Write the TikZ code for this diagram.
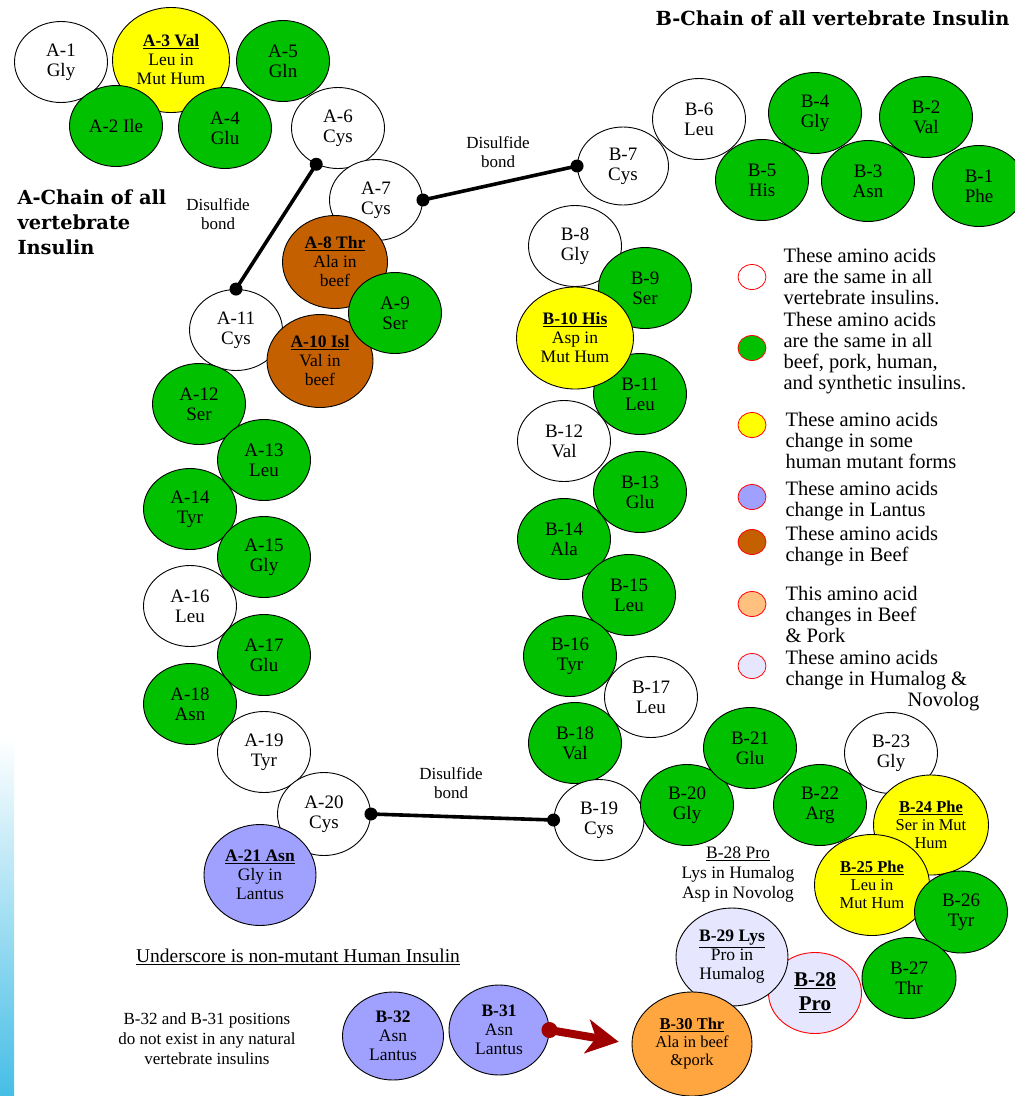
\documentclass[tikz,border=0pt]{standalone}
\usepackage{fontspec}
\setmainfont{Liberation Serif}
\newfontfamily\titlefont{DejaVu Serif}
\usetikzlibrary{shapes.geometric,arrows.meta}
\definecolor{resgreen}{RGB}{0,192,0}
\definecolor{resyellow}{RGB}{255,255,0}
\definecolor{resbrown}{RGB}{196,96,0}
\definecolor{reslantus}{RGB}{160,160,255}
\definecolor{resorange}{RGB}{255,166,64}
\definecolor{respeach}{RGB}{255,192,128}
\definecolor{respale}{RGB}{230,230,255}
\definecolor{arrowred}{RGB}{160,0,0}
\definecolor{stripblue}{RGB}{70,190,230}
\newcommand{\hd}[1]{\underline{\textbf{#1}}}

\begin{document}
\begin{tikzpicture}[x=1pt, y=-1pt, >=stealth,
    res/.style={ellipse, draw=black, line width=0.9pt, inner sep=0pt, minimum width=93pt, minimum height=81pt, align=center, font=\fontsize{19}{20}\selectfont},
    big/.style={minimum width=116pt, minimum height=102pt, font=\fontsize{17.5}{19}\selectfont},
    same/.style={res, fill=white},
    kept/.style={res, fill=resgreen},
    mut/.style={res, big, fill=resyellow},
    beef/.style={res, big, fill=resbrown, minimum width=105pt, minimum height=93pt},
    lantus/.style={res, big, fill=reslantus},
    bond/.style={line width=3.6pt},
    bondlabel/.style={align=center, font=\fontsize{17}{19}\selectfont},
    titletext/.style={font=\titlefont\bfseries\fontsize{19.4}{25}\selectfont},
    key/.style={ellipse, draw=red, line width=0.8pt, inner sep=0pt, minimum width=28pt, minimum height=25pt},
    keytext/.style={anchor=west, align=left, font=\fontsize{20.5}{21}\selectfont},
    note/.style={align=center, font=\fontsize{17.5}{20}\selectfont}]
  \useasboundingbox (0,0) rectangle (1015,1096);
  % 1. 左侧渐变条
  \shade[top color=white, bottom color=stripblue] (0,738) rectangle (14,1096);

  % 2. A 链
  \node[same] (a1) at (61,62) {A-1\\Gly};
  \node[kept] (a5) at (283,61) {A-5\\Gln};
  \node[mut, minimum width=117pt, minimum height=105pt] (a3) at (171,60) {\hd{A-3 Val}\\Leu in\\Mut Hum};
  \node[kept] (a2) at (116,126) {A-2 Ile};
  \node[kept] (a4) at (225,128) {A-4\\Glu};
  \node[same] (a6) at (338,128) {A-6\\Cys};
  \node[same] (a7) at (376,200) {A-7\\Cys};
  \node[same] (a11) at (236,330) {A-11\\Cys};
  \node[beef] (a8) at (335,262) {\hd{A-8 Thr}\\Ala in\\beef};
  \node[beef, minimum width=106pt] (a10) at (320,361) {\hd{A-10 Isl}\\Val in\\beef};
  \node[kept] (a9) at (395,313) {A-9\\Ser};
  \node[kept] (a12) at (199,404) {A-12\\Ser};
  \node[kept] (a13) at (264,460) {A-13\\Leu};
  \node[kept] (a14) at (190,509) {A-14\\Tyr};
  \node[kept] (a15) at (264,557) {A-15\\Gly};
  \node[same] (a16) at (190,606) {A-16\\Leu};
  \node[kept] (a17) at (264,655) {A-17\\Glu};
  \node[kept] (a18) at (190,704) {A-18\\Asn};
  \node[same] (a19) at (264,752) {A-19\\Tyr};
  \node[same, minimum height=83pt] (a20) at (324,814) {A-20\\Cys};
  \node[lantus, minimum width=112pt, minimum height=101pt] (a21) at (260,875) {\hd{A-21 Asn}\\Gly in\\Lantus};

  % 3. B 链
  \node[kept] (b1) at (979,186) {B-1\\Phe};
  \node[kept] (b2) at (926,117) {B-2\\Val};
  \node[kept] (b3) at (868,181) {B-3\\Asn};
  \node[kept] (b4) at (815,113) {B-4\\Gly};
  \node[kept] (b5) at (762,180) {B-5\\His};
  \node[same] (b6) at (699,119) {B-6\\Leu};
  \node[same, minimum width=91pt, minimum height=78pt] (b7) at (623,166) {B-7\\Cys};
  \node[same] (b8) at (575,246) {B-8\\Gly};
  \node[kept] (b9) at (645,288) {B-9\\Ser};
  \node[kept] (b11) at (640,394) {B-11\\Leu};
  \node[same] (b12) at (564,441) {B-12\\Val};
  \node[kept] (b13) at (640,492) {B-13\\Glu};
  \node[kept] (b14) at (564,539) {B-14\\Ala};
  \node[kept] (b15) at (629,595) {B-15\\Leu};
  \node[kept] (b16) at (570,656) {B-16\\Tyr};
  \node[same] (b17) at (651,697) {B-17\\Leu};
  \node[kept] (b18) at (575,743) {B-18\\Val};
  \node[same, minimum width=90pt] (b19) at (599,820) {B-19\\Cys};
  \node[kept] (b20) at (687,805) {B-20\\Gly};
  \node[kept] (b21) at (750,748) {B-21\\Glu};
  \node[kept] (b22) at (820,805) {B-22\\Arg};
  \node[same] (b23) at (891,753) {B-23\\Gly};
  \node[mut, minimum width=117pt] (b10) at (575,338) {\hd{B-10 His}\\Asp in\\Mut Hum};
  \node[mut, minimum width=115pt, minimum height=100pt, font=\fontsize{16.5}{18}\selectfont] (b24) at (931,825) {\hd{B-24 Phe}\\Ser in Mut\\Hum};
  \node[mut, minimum width=115pt, minimum height=101pt, font=\fontsize{16.5}{18}\selectfont] (b25) at (872,885) {\hd{B-25 Phe}\\Leu in\\Mut Hum};
  \node[kept, minimum height=82pt] (b26) at (961,912) {B-26\\Tyr};
  \node[kept, minimum width=94pt] (b27) at (909,978) {B-27\\Thr};
  \node[res, fill=respale, draw=red, font=\bfseries\fontsize{21}{24}\selectfont] (b28) at (815,993) {\underline{B-28}\\\underline{Pro}};
  \node[res, big, fill=respale, minimum width=112pt, minimum height=98pt] (b29) at (732,957) {\hd{B-29 Lys}\\Pro in\\Humalog};
  \node[res, big, fill=resorange, minimum width=120pt, minimum height=104pt, font=\fontsize{16.5}{18}\selectfont] (b30) at (692,1044) {\hd{B-30 Thr}\\Ala in beef\\\&pork};
  \node[lantus, minimum width=100pt, minimum height=90pt] (b31) at (499,1030) {\textbf{B-31}\\Asn\\Lantus};
  \node[lantus, minimum width=101pt, minimum height=88pt] (b32) at (393,1036) {\textbf{B-32}\\Asn\\Lantus};

  % 4. 二硫键
  \draw[bond] (a6.239) -- (a11.north);
  \draw[bond] (a7.east) -- (b7.west);
  \draw[bond] (a20.east) -- (b19.west);
  \foreach \p in {a6.239, a11.north, a7.east, b7.west, a20.east, b19.west}
    \fill (\p) circle (6.5);
  \node[bondlabel] (bl1) at (218,214) {Disulfide\\bond};
  \node[bondlabel] (bl2) at (498,152) {Disulfide\\bond};
  \node[bondlabel] (bl3) at (451,783) {Disulfide\\bond};

  % 5. B-31 到 B-30 的箭头
  \fill[arrowred] (b31.east) circle (8);
  \draw[arrowred, line width=8pt, shorten >=13pt, -{Stealth[length=32pt, width=34pt, inset=9pt]}] (b31.east) -- (b30.west);

  % 6. 标题与说明
  \node[titletext, anchor=east] (btitle) at (1013,18) {B-Chain of all vertebrate Insulin};
  \node[titletext, anchor=west, align=left] (atitle) at (14,222) {A-Chain of all\\vertebrate\\Insulin};
  \node[note, font=\fontsize{19.5}{20}\selectfont] (under) at (298,957) {\underline{Underscore is non-mutant Human Insulin}};
  \node[note, font=\fontsize{17}{20}\selectfont] (b3231) at (207,1039) {B-32 and B-31 positions\\do not exist in any natural\\vertebrate insulins};
  \node[note] (b28note) at (738,875) {\underline{B-28 Pro}\\Lys in Humalog\\Asp in Novolog};

  % 7. 图例
  \node[key, fill=white] (k1) at (752,277) {};
  \node[keytext] (t1) at (780,277) {These amino acids\\are the same in all\\vertebrate insulins.};
  \node[key, fill=resgreen] (k2) at (752,348) {};
  \node[keytext] (t2) at (780,353) {These amino acids\\are the same in all\\beef, pork, human,\\and synthetic insulins.};
  \node[key, fill=resyellow] (k3) at (752,425) {};
  \node[keytext] (t3) at (782,440) {These amino acids\\change in some\\human mutant forms};
  \node[key, fill=reslantus] (k4) at (752,497) {};
  \node[keytext] (t4) at (782,501) {These amino acids\\change in Lantus};
  \node[key, fill=resbrown] (k5) at (752,542) {};
  \node[keytext] (t5) at (782,546) {These amino acids\\change in Beef};
  \node[key, fill=respeach] (k6) at (752,604) {};
  \node[keytext] (t6) at (782,614) {This amino acid\\changes in Beef\\\& Pork};
  \node[key, fill=respale] (k7) at (752,666) {};
  \node[keytext] (t7) at (782,670) {These amino acids\\change in Humalog \&};
  \node[keytext, anchor=east] (t7b) at (983,702) {Novolog};
\end{tikzpicture}
\end{document}
